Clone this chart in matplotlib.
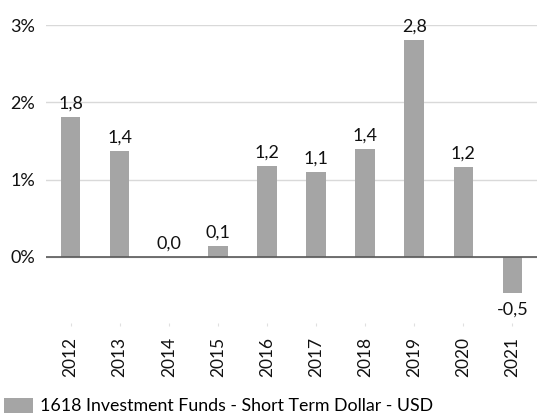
import matplotlib
matplotlib.use('Agg')
import matplotlib.pyplot as plt
from matplotlib.ticker import FuncFormatter

# data
years = ['2012', '2013', '2014', '2015', '2016', '2017', '2018', '2019', '2020', '2021']
returns = [1.81, 1.37, 0.0, 0.14, 1.18, 1.10, 1.40, 2.81, 1.16, -0.47]
value_labels = ['1,8', '1,4', '0,0', '0,1', '1,2', '1,1', '1,4', '2,8', '1,2', '-0,5']
series_name = '1618 Investment Funds - Short Term Dollar - USD'

plt.rcParams['font.family'] = ['Lato', 'DejaVu Sans']

fig = plt.figure(figsize=(5.37, 4.19), dpi=100)
ax = fig.add_axes([46 / 537, 0.230, 491 / 537, 0.710])

x = range(len(years))
bars = ax.bar(x, returns, width=0.4, color='#a5a5a5', zorder=2, label=series_name)

for xi, v, lab in zip(x, returns, value_labels):
    if v >= 0:
        ax.annotate(lab, (xi, v), xytext=(0, 4), textcoords='offset points',
                    ha='center', va='bottom', fontsize=13, color='#111111')
    else:
        ax.annotate(lab, (xi, v), xytext=(0, -6), textcoords='offset points',
                    ha='center', va='top', fontsize=13, color='#111111')

ax.set_xlim(-0.5, len(years) - 0.5)
ax.set_ylim(-0.85, 3.0)
ax.set_yticks([0, 1, 2, 3])
ax.yaxis.set_major_formatter(FuncFormatter(lambda v, p: '%d%%' % v))
ax.grid(axis='y', color='#d9d9d9', linewidth=1, zorder=0)
ax.axhline(0, color='#595959', linewidth=1.2, zorder=3)

for s in ax.spines.values():
    s.set_visible(False)

ax.set_xticks(list(x))
ax.set_xticklabels(years, rotation=90, fontsize=12.5, color='#111111')
ax.tick_params(axis='x', length=2, color='#e0e0e0', pad=8)
ax.tick_params(axis='y', length=0, labelsize=13, labelcolor='#111111', pad=8)

fig.legend(handles=[bars], labels=[series_name], loc='lower left',
           bbox_to_anchor=(-0.022, -0.027), frameon=False, fontsize=12.8,
           handlelength=1.6, handleheight=0.9, handletextpad=0.4)

fig.savefig('out.png', dpi=100)
